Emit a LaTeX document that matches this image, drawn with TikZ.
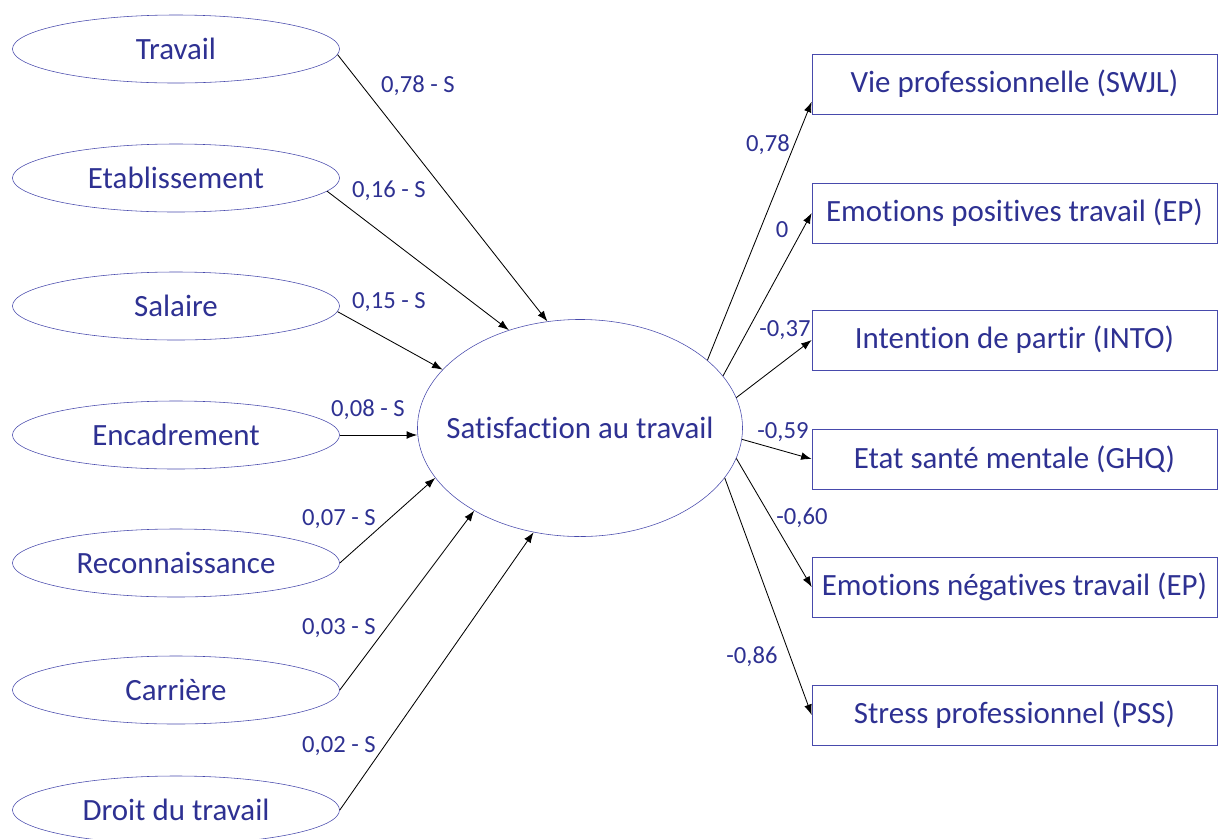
\documentclass[tikz,border=0pt]{standalone}
\usepackage{fontspec}
\setmainfont{Carlito}[Ligatures=NoCommon]
\usetikzlibrary{shapes.geometric,arrows.meta}
\definecolor{inkblue}{RGB}{46,49,146}
\definecolor{lineblue}{RGB}{72,74,172}

\begin{document}
\begin{tikzpicture}[x=0.025cm,y=-0.025cm,
    facteur/.style={draw=lineblue,ellipse,inner sep=1pt,minimum width=8.175cm,minimum height=1.7cm,text=inkblue,font=\fontsize{22}{25}\selectfont},
    latent/.style={draw=lineblue,ellipse,inner sep=1pt,minimum width=8.125cm,minimum height=5.425cm,text=inkblue,font=\fontsize{22}{25}\selectfont},
    mesure/.style={draw=lineblue,rectangle,minimum width=10.125cm,minimum height=1.5cm,text=inkblue,font=\fontsize{22}{25}\selectfont},
    poids/.style={text=inkblue,font=\fontsize{17.5}{20}\selectfont,inner sep=0pt},
    fleche/.style={draw=black,line width=0.6pt,-{Latex[length=7.5pt,width=5.5pt]}}]
            \useasboundingbox (0,0) rectangle (1219,838);
            \node[facteur] (trav) at (176,49) {Travail};
            \node[facteur] (etab) at (176,178) {Etablissement};
            \node[facteur] (sal) at (176,306) {Salaire};
            \node[facteur] (enc) at (176,435) {Encadrement};
            \node[facteur] (reco) at (176,563) {Reconnaissance};
            \node[facteur] (carr) at (176,690) {Carrière};
            \node[facteur] (droit) at (176,810) {Droit du travail};
            \node[latent] (sat) at (580,428) {\makebox[0pt]{Satisfaction au travail}};
            \node[mesure] (swjl) at (1014.5,84) {Vie professionnelle (SWJL)};
            \node[mesure] (epos) at (1014.5,213) {Emotions positives travail (EP)};
            \node[mesure] (into) at (1014.5,340) {Intention de partir (INTO)};
            \node[mesure] (ghq) at (1014.5,459) {Etat santé mentale (GHQ)};
            \node[mesure] (eneg) at (1014.5,587) {Emotions négatives travail (EP)};
            \node[mesure] (pss) at (1014.5,715) {Stress professionnel (PSS)};
            \draw[fleche] (trav.-2)--(sat.107);
            \draw[fleche] (etab.-5)--(sat.126);
            \draw[fleche] (sal.-2)--(sat.157.5);
            \draw[fleche] (enc.east)--(enc.east -| sat.west);
            \draw[fleche] (reco.east)--(sat.199.5);
            \draw[fleche] (carr.east)--(sat.218);
            \draw[fleche] (droit.east)--(sat.246);
            \draw[fleche] (sat.28)--(swjl.185);
            \draw[fleche] (sat.20)--(epos.west);
            \draw[fleche] (sat.11)--(into.west);
            \draw[fleche] (sat.-4)--(ghq.west);
            \draw[fleche] (sat.-11.5)--(eneg.west);
            \draw[fleche] (sat.-19)--(pss.west);
            \node[poids] (w1) at (418,86) {0,78 - S};
            \node[poids] (w2) at (389,191) {0,16 - S};
            \node[poids] (w3) at (389,302) {0,15 - S};
            \node[poids] (w4) at (368,410) {0,08 - S};
            \node[poids] (w5) at (339,519) {0,07 - S};
            \node[poids] (w6) at (339,628) {0,03 - S};
            \node[poids] (w7) at (339,746) {0,02 - S};
            \node[poids] (c1) at (768,145) {0,78};
            \node[poids] (c2) at (782,230) {0};
            \node[poids] (c3) at (785,330) {-0,37};
            \node[poids] (c4) at (783,432) {-0,59};
            \node[poids] (c5) at (802,518) {-0,60};
            \node[poids] (c6) at (752,657) {-0,86};
             \end{tikzpicture}
\end{document}
